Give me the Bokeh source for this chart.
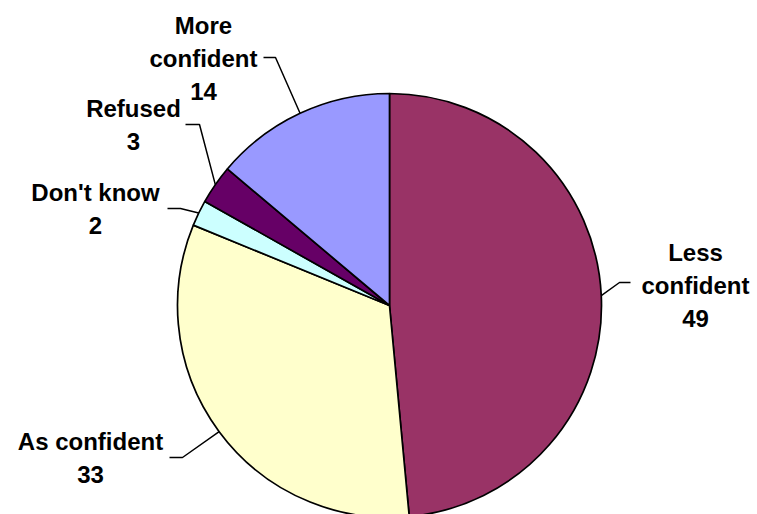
import numpy as np
from bokeh.plotting import figure
from bokeh.models import Range1d, ColumnDataSource
from bokeh.core.properties import value
from bokeh.embed import file_html
from bokeh.resources import INLINE

# ---- data ----
categories = ["Less confident", "As confident", "Don't know", "Refused", "More confident"]
values = [49, 33, 2, 3, 14]
colors = ["#993366", "#FFFFCC", "#CCFFFF", "#660066", "#9999FF"]
label_lines = [["Less", "confident"], ["As confident"], ["Don't know"], ["Refused"], ["More", "confident"]]

# ---- layout (screen pixels, y from top) ----
W, H = 757, 514
CX, CY, R = 389, 305, 212
label_x = [695, 90, 95, 133, 203]
label_top = [252, 441, 192, 108, 25]
line_gap = 33
leader_start = [(630, 282), (169, 457), (167, 208), (185, 124), (263, 57)]
leader_knee = [(619, 282), (182, 457), (180, 208), (199, 124), (275, 57)]

def fy(y):
    return H - y

vals = np.array(values, dtype=float)
tot = vals.sum()
frac_end = np.cumsum(vals) / tot
frac_start = frac_end - vals / tot
start = np.pi / 2 - frac_end * 2 * np.pi
end = np.pi / 2 - frac_start * 2 * np.pi
mid = np.pi / 2 - (frac_start + frac_end) / 2 * 2 * np.pi

p = figure(width=W, height=H, x_range=Range1d(0, W), y_range=Range1d(0, H),
           min_border=0, toolbar_location=None, output_backend="svg")
p.axis.visible = False
p.grid.visible = False
p.outline_line_color = None
p.background_fill_color = "white"
p.border_fill_color = "white"

src = ColumnDataSource(dict(start=start, end=end, color=colors, cat=categories))
p.wedge(x=CX, y=fy(CY), radius=R, start_angle="start", end_angle="end",
        fill_color="color", line_color="black", line_width=1.7, source=src)

# leader lines
xs, ys = [], []
for i in range(len(values)):
    ex = CX + R * np.cos(mid[i])
    ey = fy(CY) + R * np.sin(mid[i])
    xs.append([leader_start[i][0], leader_knee[i][0], ex])
    ys.append([fy(leader_start[i][1]), fy(leader_knee[i][1]), ey])
p.multi_line(xs=xs, ys=ys, line_color="black", line_width=1.5)

# labels
tx, ty, tt = [], [], []
for i, cat in enumerate(categories):
    lines = label_lines[i] + [str(values[i])]
    for j, ln in enumerate(lines):
        tx.append(label_x[i])
        ty.append(fy(label_top[i] + j * line_gap))
        tt.append(ln)
p.text(x=tx, y=ty, text=tt, text_align="center", text_baseline="middle",
       text_font=value("Liberation Sans"), text_font_style="bold",
       text_font_size="24px", text_color="black")

open("out.html", "w").write(file_html(p, INLINE))
